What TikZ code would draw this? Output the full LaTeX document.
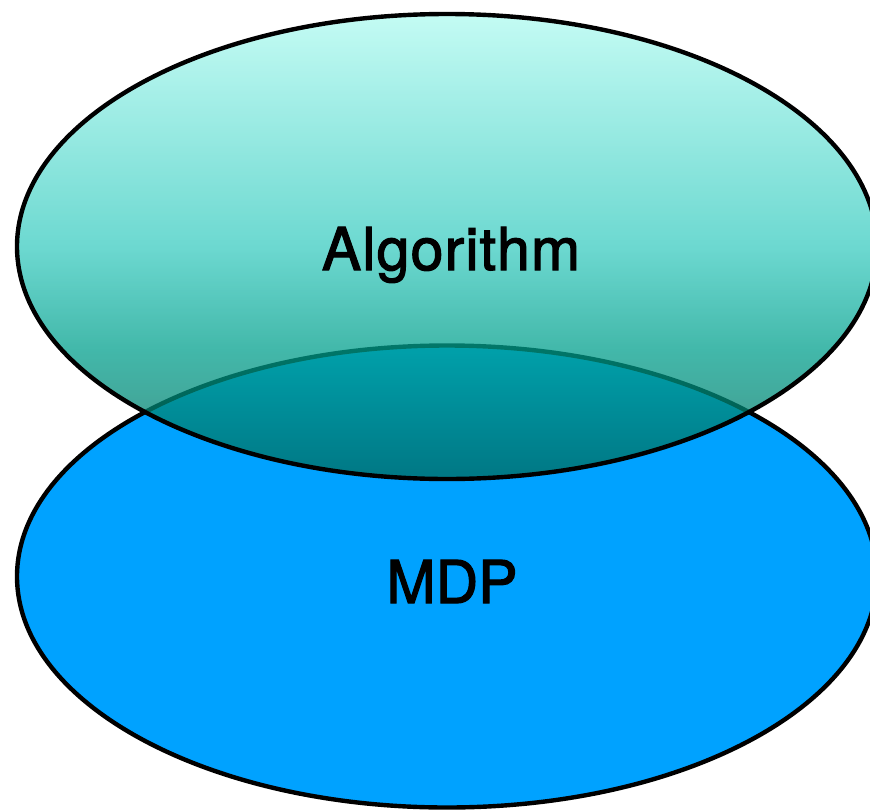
\documentclass[tikz,border=0pt]{standalone}
\usepackage{fontspec}
\setmainfont{TeX Gyre Heros}
\usetikzlibrary{shapes.geometric}

% fill colours
\definecolor{mdpblue}{RGB}{0,162,255}
\definecolor{algtop}{RGB}{175,250,240}
\definecolor{algmid}{RGB}{57,203,192}
\definecolor{alglow}{RGB}{0,159,140}
\definecolor{algbot}{RGB}{0,105,90}

% vertical gradient of the upper ellipse (25bp = bottom edge, 75bp = top edge)
\pgfdeclareverticalshading{algshade}{100bp}{%
  color(0bp)=(algbot); color(25bp)=(algbot); color(38.9bp)=(alglow);
  color(50bp)=(algmid); color(75bp)=(algtop); color(100bp)=(algtop)}

\tikzset{
  setbox/.style={ellipse, draw=black, line width=4.4pt, inner sep=0pt,
    minimum width=860pt},
  label text/.style={font=\fontsize{59}{70}\selectfont\addfontfeature{FakeBold=2},
    anchor=base, inner sep=0pt},
}

\begin{document}
\begin{tikzpicture}[x=1pt, y=-1pt]
  \useasboundingbox (0,0) rectangle (870,809);

  % lower set: MDP
  \node[setbox, fill=mdpblue, minimum height=462pt] (mdp) at (447,576.5) {};

  % upper set: Algorithm, translucent gradient over the lower one
  \node[ellipse, inner sep=0pt, minimum width=860pt, minimum height=465pt,
        shading=algshade, fill opacity=0.74] (algfill) at (447,246.5) {};
  \node[setbox, minimum height=465pt] (alg) at (447,246.5) {};

  \node[label text] (algtext) at (451,270) {\addfontfeature{LetterSpace=2}Algorithm};
  \node[label text] (mdptext) at (452,603) {MDP};
\end{tikzpicture}
\end{document}
